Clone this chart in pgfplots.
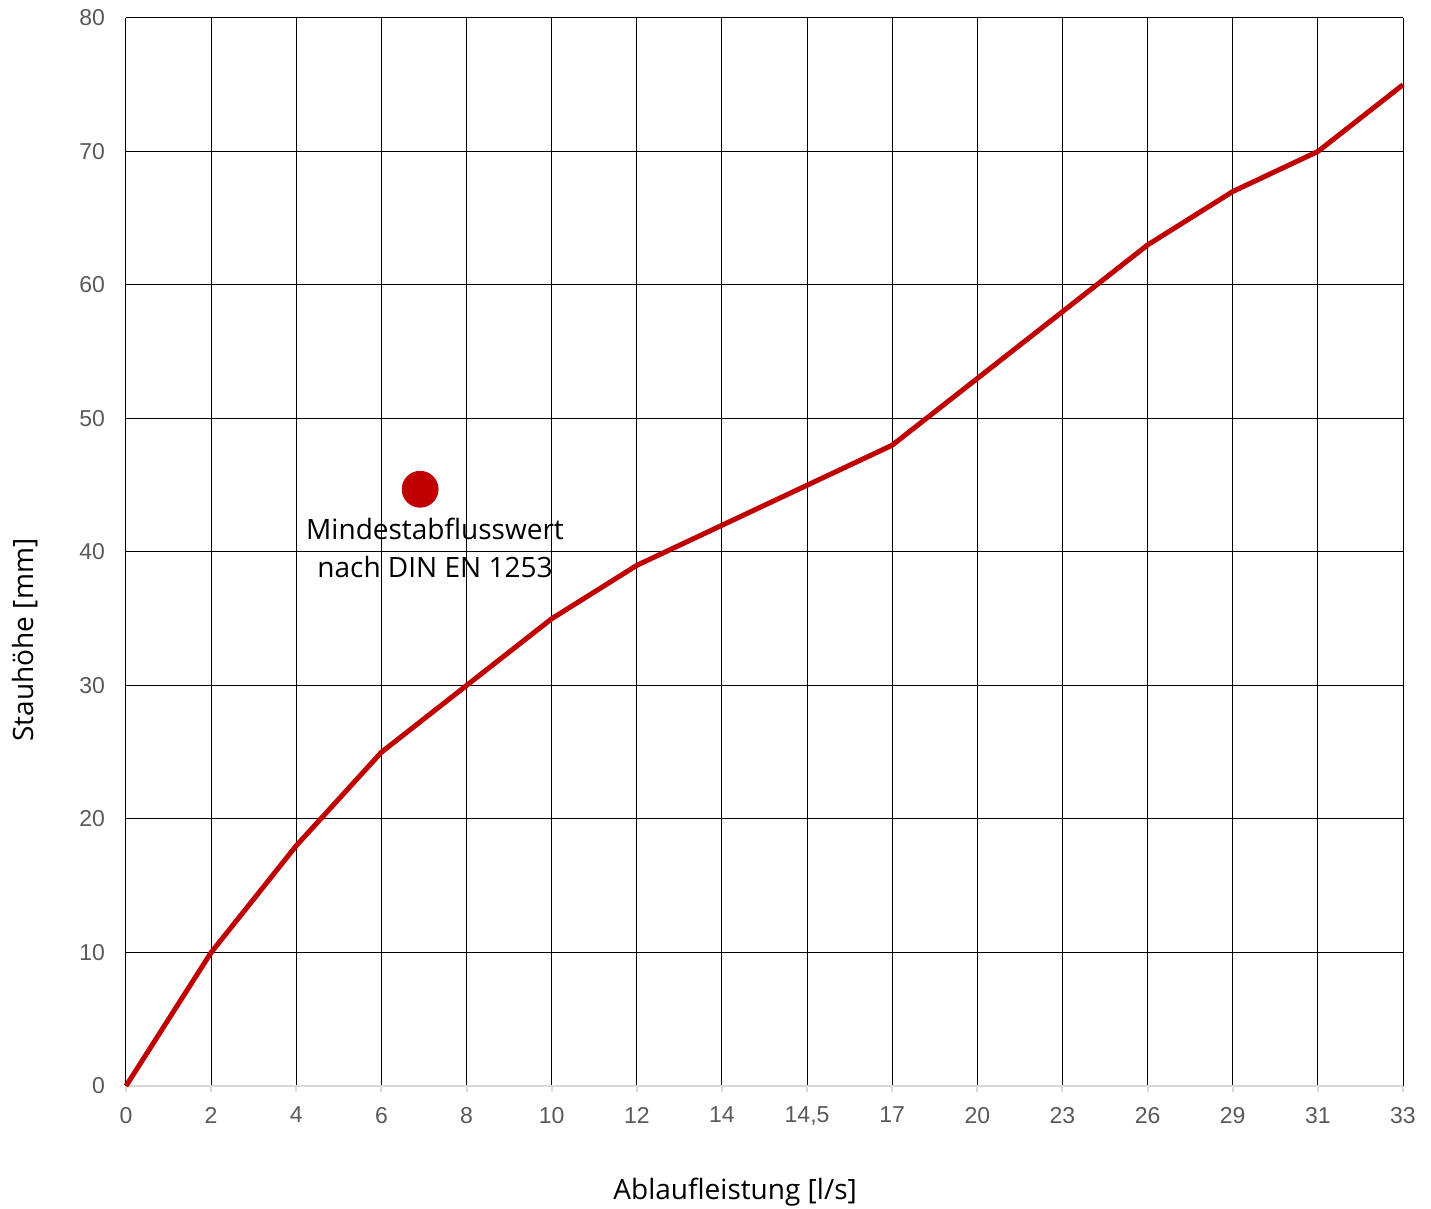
\documentclass[border=0pt]{standalone}
\usepackage{fontspec}
\setmainfont{Liberation Sans}
\newfontfamily\lab{Open Sans}
\usepackage{pgfplots}
\pgfplotsset{compat=1.18}
\definecolor{darkred}{HTML}{C00000}
\definecolor{ticktext}{HTML}{595959}
\definecolor{axgray}{HTML}{D9D9D9}
\begin{document}
\begin{tikzpicture}
\path[use as bounding box] (-63pt,-61.5pt) rectangle (652.5pt,543pt);
\begin{axis}[
scale only axis,
width=638.5pt, height=534pt,
xmin=0, xmax=15, ymin=0, ymax=80,
xtick={0,...,15},
xticklabels={0,2,4,6,8,10,12,14,{14,5},17,20,23,26,29,31,33},
ytick={0,10,...,80},
/pgf/number format/assume math mode=true,
axis x line*=bottom,
axis y line*=left,
x axis line style={draw=axgray, line width=1pt, -},
y axis line style={draw=none, -},
grid=major,
major grid style={black, line width=0.5pt},
tick align=outside,
major tick length=3pt,
xtick style={draw=axgray, line width=1pt},
ytick style={draw=none},
tick label style={font=\fontsize{11.5}{13}\selectfont, text=ticktext},
xticklabel style={yshift=-4pt},
yticklabel style={xshift=-4pt},
xlabel={\lab Ablaufleistung [l/s]},
ylabel={\lab Stauhöhe [mm]},
label style={font=\fontsize{14}{16}\selectfont, text=black},
xlabel style={at={(axis description cs:0.477,-0.0993)}, anchor=center},
ylabel style={at={(axis description cs:-0.0791,0.4176)}, anchor=center},
clip=false,
]
\addplot[darkred, line width=2.5pt, line join=round] coordinates {
(0,0) (1,10) (2,18) (3,25) (4,30) (5,35) (6,39) (7,42)
(8,45) (9,48) (10,53) (11,58) (12,63) (13,67) (14,70) (15,75)};
\addplot[darkred, only marks, mark=*, mark size=9pt, mark options={fill=darkred, draw=darkred}] coordinates {(3.455,44.7)};
\node[align=center, font=\lab\fontsize{14}{19}\selectfont, text=black] at (axis cs:3.63,40.3) {Mindestabflusswert\\nach DIN EN 1253};
\end{axis}
\end{tikzpicture}
\end{document}
